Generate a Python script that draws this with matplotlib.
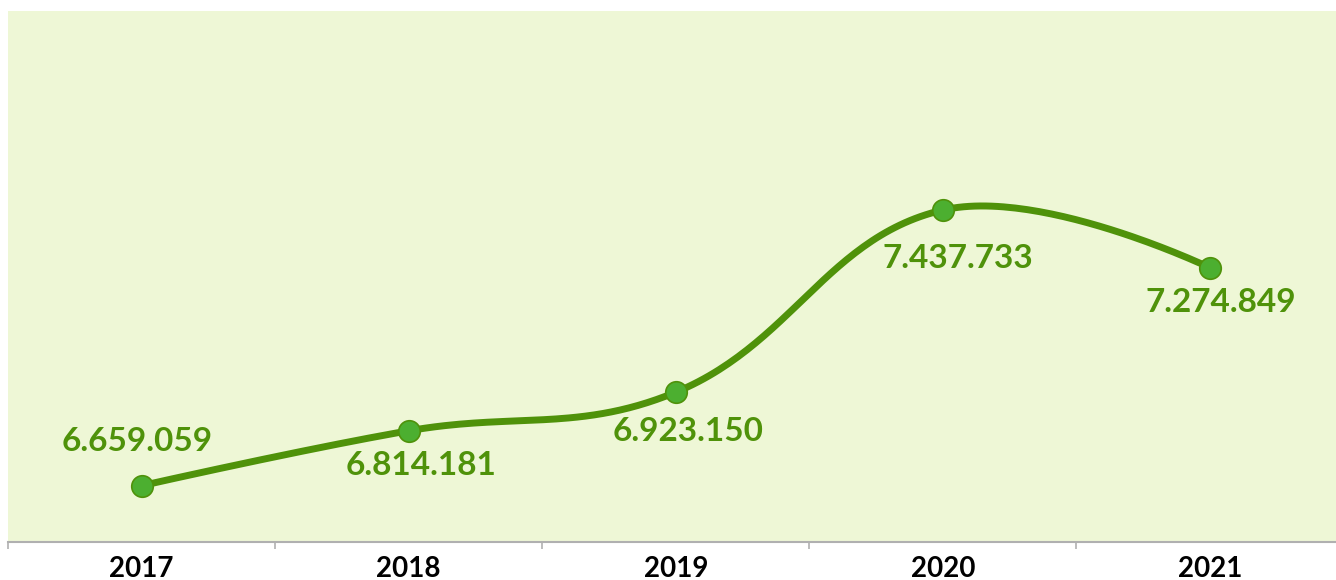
"""
plot.py
"""

import matplotlib
matplotlib.use("Agg")
import matplotlib.pyplot as plt
import numpy as np

years = ["2017", "2018", "2019", "2020", "2021"]
values = [6659059, 6814181, 6923150, 7437733, 7274849]
value_labels = ["6.659.059", "6.814.181", "6.923.150", "7.437.733", "7.274.849"]

BG = "#eef7d6"
LINE = "#4f920a"
MARKER = "#4caf30"
TEXT_GREEN = "#4f920a"

plt.rcParams["font.family"] = ["Lato", "DejaVu Sans"]

fig = plt.figure(figsize=(13.36, 5.8), dpi=100)
ax = fig.add_axes([8 / 1336, 38 / 580, 1335.5 / 1336, 531 / 580])
ax.set_facecolor(BG)

x = np.arange(len(years))
ax.set_xlim(-0.5, len(years) - 0.5)
ax.set_ylim(6500000, 8000000)

# smooth curve like a chart.js tension spline, built in pixel space
fig.canvas.draw()
pts = ax.transData.transform(np.column_stack([x, values]))
tension = 0.4
n = len(pts)
ctrl_prev = pts.copy()
ctrl_next = pts.copy()
for i in range(1, n - 1):
    p0, p1, p2 = pts[i - 1], pts[i], pts[i + 1]
    d01 = np.hypot(*(p1 - p0))
    d12 = np.hypot(*(p2 - p1))
    s01 = d01 / (d01 + d12)
    s12 = d12 / (d01 + d12)
    ctrl_prev[i] = p1 - tension * s01 * (p2 - p0)
    ctrl_next[i] = p1 + tension * s12 * (p2 - p0)

curve = []
t = np.linspace(0, 1, 60)[:, None]
for i in range(n - 1):
    a, b, c, d = pts[i], ctrl_next[i], ctrl_prev[i + 1], pts[i + 1]
    seg = ((1 - t) ** 3) * a + 3 * ((1 - t) ** 2) * t * b + 3 * (1 - t) * t ** 2 * c + t ** 3 * d
    curve.append(seg)
curve = np.vstack(curve)
curve = ax.transData.inverted().transform(curve)

ax.plot(curve[:, 0], curve[:, 1], color=LINE, linewidth=5,
        solid_capstyle="round", zorder=2)
ax.plot(x, values, "o", markersize=15.5, markerfacecolor=MARKER,
        markeredgecolor=LINE, markeredgewidth=1.2, zorder=3)

# label offsets in points (dx, dy)
offsets = [(-3, 32), (9, -25), (9, -28), (11, -35), (8, -25)]
for xi, v, lab, off in zip(x, values, value_labels, offsets):
    ax.annotate(lab, (xi, v), xytext=off, textcoords="offset points",
                ha="center", va="center", fontsize=24, color=TEXT_GREEN,
                fontweight="bold")

for side in ["top", "right", "left"]:
    ax.spines[side].set_visible(False)
ax.spines["bottom"].set_color("#b0b0b0")
ax.spines["bottom"].set_linewidth(1.5)

ax.set_yticks([])
ax.set_xticks(np.arange(-0.5, len(years)), minor=False)
ax.set_xticklabels([])
ax.tick_params(axis="x", which="major", length=5, color="#b0b0b0", width=1.2)
ax.set_xticks(x, minor=True)
ax.set_xticklabels(years, minor=True, fontsize=20, fontweight="bold")
ax.tick_params(axis="x", which="minor", length=0, pad=10)

fig.savefig("out.png", dpi=100)
